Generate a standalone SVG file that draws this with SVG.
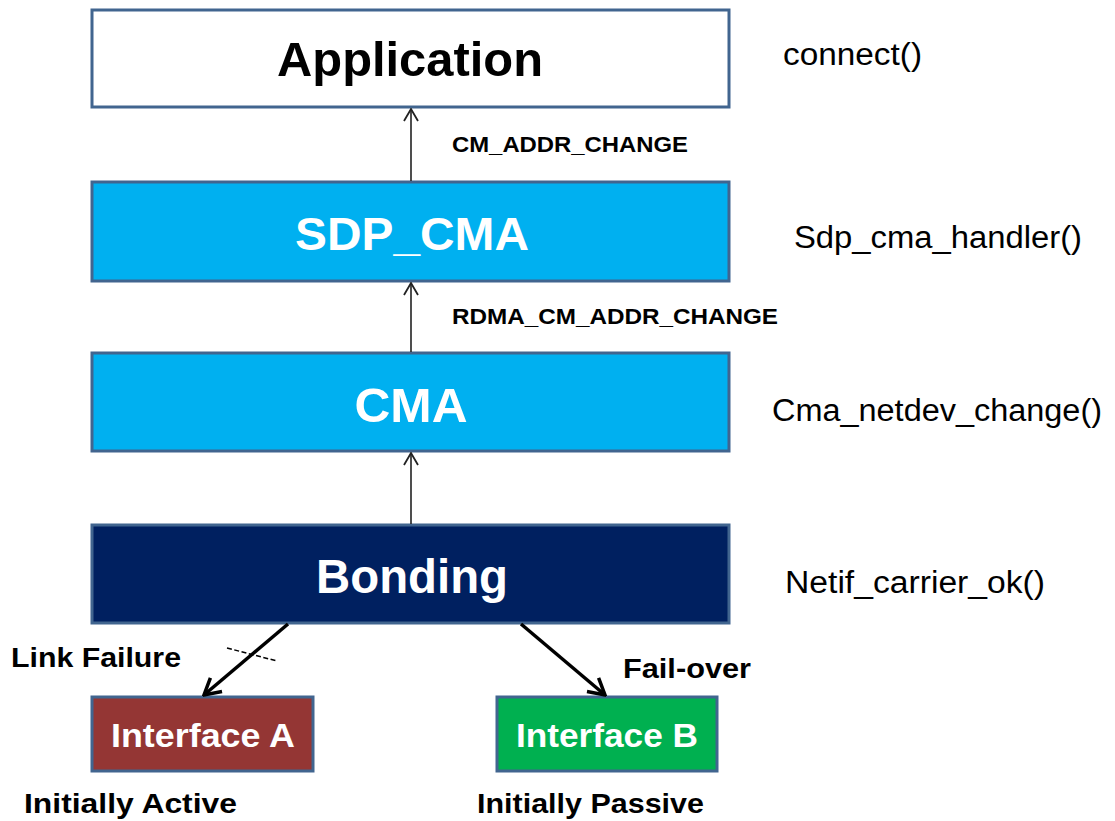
<svg xmlns="http://www.w3.org/2000/svg" width="1115" height="821" viewBox="0 0 1115 821">
  <style>
    .box { stroke: #41658f; stroke-width: 3; }
    .title { font-family: "Liberation Sans", Arial, sans-serif; font-weight: bold; text-anchor: middle; }
    .lbl { font-family: "Liberation Sans", Arial, sans-serif; font-weight: bold; fill: #000; }
    .fn { font-family: "Liberation Sans", Arial, sans-serif; fill: #000; font-size: 31px; }
    .up { stroke: #222; stroke-width: 1.6; fill: none; marker-end: url(#openHead); }
    .down { stroke: #000; stroke-width: 3.5; fill: none; marker-end: url(#boldHead); }
  </style>
  <defs>
    <marker id="openHead" viewBox="0 0 14 16" refX="13" refY="8" markerWidth="14" markerHeight="16" markerUnits="userSpaceOnUse" orient="auto">
      <path d="M1,1 L13,8 L1,15" fill="none" stroke="#222" stroke-width="1.8"/>
    </marker>
    <marker id="boldHead" viewBox="0 0 20 22" refX="18" refY="11" markerWidth="20" markerHeight="22" markerUnits="userSpaceOnUse" orient="auto">
      <path d="M2,2 L18,11 L2,20" fill="none" stroke="#000" stroke-width="3.5" stroke-linejoin="miter"/>
    </marker>
  </defs>

  <rect width="1115" height="821" fill="#ffffff"/>

  <g id="application">
    <rect class="box" x="92" y="10" width="637" height="97" fill="#ffffff"/>
    <text class="title" x="410" y="76" font-size="48" fill="#000" textLength="266" lengthAdjust="spacingAndGlyphs">Application</text>
  </g>

  <g id="sdp_cma">
    <rect class="box" x="92" y="182" width="637" height="99" fill="#00b0f0"/>
    <text class="title" x="412" y="250" font-size="46" fill="#ffffff" textLength="234" lengthAdjust="spacingAndGlyphs">SDP_CMA</text>
  </g>

  <g id="cma">
    <rect class="box" x="92" y="353" width="637" height="98" fill="#00b0f0"/>
    <text class="title" x="411" y="422" font-size="48" fill="#ffffff" textLength="113" lengthAdjust="spacingAndGlyphs">CMA</text>
  </g>

  <g id="bonding">
    <rect class="box" x="92" y="525" width="637" height="98" fill="#002060"/>
    <text class="title" x="412" y="593" font-size="48" fill="#ffffff" textLength="192" lengthAdjust="spacingAndGlyphs">Bonding</text>
  </g>

  <g id="interface_a">
    <rect class="box" x="92" y="697" width="221" height="74" fill="#943634"/>
    <text class="title" x="203" y="747" font-size="34" fill="#ffffff" textLength="184" lengthAdjust="spacingAndGlyphs">Interface A</text>
  </g>

  <g id="interface_b">
    <rect class="box" x="497" y="697" width="220" height="74" fill="#00b050"/>
    <text class="title" x="607" y="747" font-size="34" fill="#ffffff" textLength="182" lengthAdjust="spacingAndGlyphs">Interface B</text>
  </g>

  <g id="connectors">
    <line class="up" x1="411" y1="181" x2="411" y2="109"/>
    <line class="up" x1="411" y1="352" x2="411" y2="283"/>
    <line class="up" x1="411" y1="524" x2="411" y2="453"/>
    <line class="down" x1="288" y1="624" x2="204" y2="695"/>
    <line class="down" x1="521" y1="624" x2="605" y2="695"/>
    <!-- broken-link mark across the failed path -->
    <line x1="227" y1="648" x2="277" y2="661" stroke="#000" stroke-width="1.5" stroke-dasharray="5,2.5"/>
  </g>

  <g id="event_labels">
    <text class="lbl" x="452" y="152" font-size="22" textLength="236" lengthAdjust="spacingAndGlyphs">CM_ADDR_CHANGE</text>
    <text class="lbl" x="452" y="324" font-size="22" textLength="326" lengthAdjust="spacingAndGlyphs">RDMA_CM_ADDR_CHANGE</text>
    <text class="lbl" x="11" y="667" font-size="28" textLength="170" lengthAdjust="spacingAndGlyphs">Link Failure</text>
    <text class="lbl" x="623" y="678" font-size="28" textLength="128" lengthAdjust="spacingAndGlyphs">Fail-over</text>
    <text class="lbl" x="24" y="813" font-size="28" textLength="213" lengthAdjust="spacingAndGlyphs">Initially Active</text>
    <text class="lbl" x="477" y="813" font-size="28" textLength="227" lengthAdjust="spacingAndGlyphs">Initially Passive</text>
  </g>

  <g id="function_labels">
    <text class="fn" x="783" y="65" textLength="139" lengthAdjust="spacingAndGlyphs">connect()</text>
    <text class="fn" x="794" y="248" textLength="288" lengthAdjust="spacingAndGlyphs">Sdp_cma_handler()</text>
    <text class="fn" x="772" y="421" textLength="330" lengthAdjust="spacingAndGlyphs">Cma_netdev_change()</text>
    <text class="fn" x="785" y="593" textLength="260" lengthAdjust="spacingAndGlyphs">Netif_carrier_ok()</text>
  </g>
</svg>
